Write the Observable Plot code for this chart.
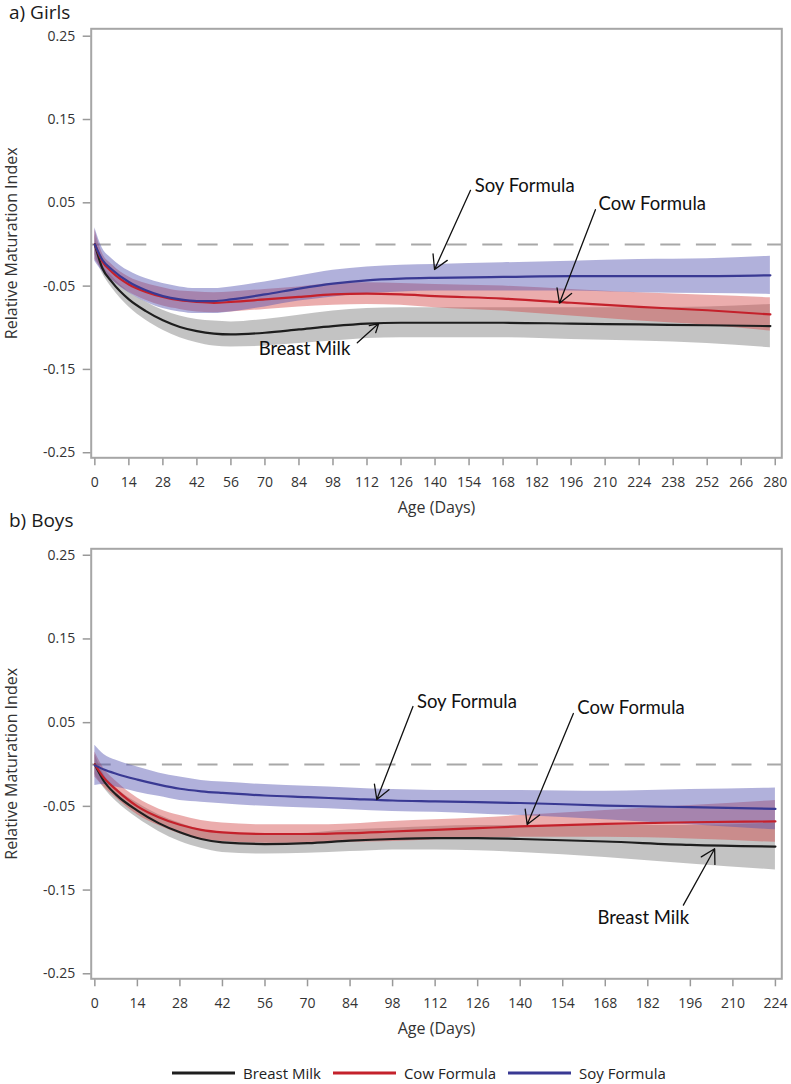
<!DOCTYPE html>
<html><head><meta charset="utf-8">
<script src="https://cdn.jsdelivr.net/npm/d3@7"></script>
<script src="https://cdn.jsdelivr.net/npm/@observablehq/plot@0.6"></script>
<style>
body{margin:0;background:#fff;font-family:"Open Sans",sans-serif;}
#wrap{position:relative;width:791px;height:1084px;overflow:hidden;}
.panel{position:absolute;left:0;}
.title{position:absolute;left:9px;font-size:19px;line-height:22px;color:#1a1a1a;white-space:nowrap;z-index:2;}
#legend{position:absolute;left:172px;top:1063px;display:flex;align-items:center;font-size:15px;color:#222;white-space:nowrap;}
#legend .item{display:flex;align-items:center;margin-right:12px;}
#legend svg{margin-right:8px;}
</style>
</head><body>
<div id="wrap">
  <div id="p1" class="panel" style="top:0px"></div>
  <div id="p2" class="panel" style="top:525px"></div>
  <div class="title" style="top:1px">a) Girls</div>
  <div class="title" style="top:509px">b) Boys</div>
  <div id="legend"></div>
</div>
<script>
// ---------- series / styling ----------
const seriesNames = ["Breast Milk", "Cow Formula", "Soy Formula"];
const lineColors = ["#1e1e1e", "#c4212b", "#393993"];
const bandColors = ["#7a7a7a", "#d24a4a", "#5252b0"];

// ---------- axes ----------
const yTicks = [0.25, 0.15, 0.05, -0.05, -0.15, -0.25];
const yTickLabels = ["0.25", "0.15", "0.05", "-0.05", "-0.15", "-0.25"];
const girlsXTicks = [0,14,28,42,56,70,84,98,112,126,140,154,168,182,196,210,224,238,252,266,280];
const boysXTicks = [0,14,28,42,56,70,84,98,112,126,140,154,168,182,196,210,224];

// ---------- Girls ----------
const girlsDays = [0,3,7,14,21,28,35,42,49,56,70,84,98,112,126,140,168,196,224,252,278];
const girlsBreastMean = [0,-0.028,-0.045,-0.066,-0.080,-0.091,-0.099,-0.104,-0.107,-0.108,-0.106,-0.102,-0.098,-0.095,-0.094,-0.094,-0.094,-0.095,-0.096,-0.097,-0.098];
const girlsBreastLow  = [-0.012,-0.034,-0.052,-0.075,-0.091,-0.103,-0.112,-0.118,-0.122,-0.123,-0.122,-0.119,-0.116,-0.113,-0.112,-0.112,-0.112,-0.114,-0.116,-0.119,-0.124];
const girlsBreastHigh = [0.012,-0.022,-0.038,-0.057,-0.069,-0.079,-0.086,-0.090,-0.092,-0.093,-0.090,-0.085,-0.080,-0.077,-0.076,-0.076,-0.076,-0.076,-0.076,-0.075,-0.072];
const girlsCowMean = [0,-0.020,-0.033,-0.048,-0.057,-0.063,-0.067,-0.069,-0.070,-0.069,-0.066,-0.063,-0.060,-0.059,-0.060,-0.062,-0.065,-0.070,-0.075,-0.079,-0.084];
const girlsCowLow  = [-0.018,-0.030,-0.042,-0.057,-0.067,-0.074,-0.078,-0.081,-0.082,-0.081,-0.078,-0.075,-0.073,-0.072,-0.073,-0.076,-0.080,-0.086,-0.092,-0.097,-0.104];
const girlsCowHigh = [0.018,-0.010,-0.024,-0.039,-0.047,-0.052,-0.056,-0.057,-0.058,-0.057,-0.054,-0.051,-0.047,-0.046,-0.047,-0.048,-0.050,-0.054,-0.058,-0.061,-0.064];
const girlsSoyMean = [0,-0.018,-0.030,-0.045,-0.055,-0.062,-0.066,-0.068,-0.068,-0.066,-0.060,-0.053,-0.047,-0.043,-0.041,-0.040,-0.039,-0.038,-0.038,-0.038,-0.037];
const girlsSoyLow  = [-0.020,-0.032,-0.043,-0.058,-0.069,-0.077,-0.081,-0.083,-0.083,-0.081,-0.075,-0.068,-0.063,-0.059,-0.057,-0.056,-0.056,-0.056,-0.058,-0.059,-0.060];
const girlsSoyHigh = [0.020,-0.004,-0.017,-0.032,-0.041,-0.047,-0.051,-0.053,-0.053,-0.051,-0.045,-0.038,-0.031,-0.027,-0.025,-0.024,-0.022,-0.020,-0.018,-0.017,-0.014];

// ---------- Boys ----------
const boysDays = [0,3,7,14,21,28,35,42,56,70,84,98,112,126,140,168,196,224];
const boysBreastMean = [0,-0.020,-0.036,-0.055,-0.070,-0.081,-0.089,-0.093,-0.095,-0.094,-0.091,-0.089,-0.088,-0.088,-0.089,-0.092,-0.096,-0.098];
const boysBreastLow  = [-0.012,-0.028,-0.044,-0.064,-0.080,-0.092,-0.100,-0.105,-0.107,-0.106,-0.104,-0.102,-0.102,-0.103,-0.105,-0.111,-0.119,-0.126];
const boysBreastHigh = [0.012,-0.012,-0.028,-0.046,-0.060,-0.070,-0.078,-0.081,-0.083,-0.082,-0.078,-0.076,-0.074,-0.073,-0.073,-0.073,-0.073,-0.070];
const boysCowMean = [0,-0.016,-0.030,-0.050,-0.063,-0.072,-0.078,-0.081,-0.083,-0.083,-0.082,-0.080,-0.078,-0.076,-0.074,-0.071,-0.069,-0.068];
const boysCowLow  = [-0.015,-0.027,-0.040,-0.060,-0.073,-0.083,-0.089,-0.092,-0.094,-0.094,-0.093,-0.092,-0.090,-0.088,-0.087,-0.087,-0.089,-0.093];
const boysCowHigh = [0.015,-0.005,-0.020,-0.040,-0.053,-0.061,-0.067,-0.070,-0.072,-0.072,-0.071,-0.068,-0.066,-0.064,-0.061,-0.055,-0.049,-0.043];
const boysSoyMean = [-0.001,-0.006,-0.011,-0.018,-0.024,-0.029,-0.032,-0.034,-0.037,-0.039,-0.041,-0.043,-0.044,-0.045,-0.046,-0.049,-0.051,-0.053];
const boysSoyLow  = [-0.025,-0.024,-0.027,-0.033,-0.038,-0.043,-0.045,-0.047,-0.050,-0.052,-0.054,-0.056,-0.057,-0.059,-0.061,-0.066,-0.072,-0.078];
const boysSoyHigh = [0.023,0.012,0.005,-0.003,-0.010,-0.015,-0.019,-0.021,-0.024,-0.026,-0.028,-0.030,-0.031,-0.031,-0.031,-0.032,-0.030,-0.028];

// ---------- annotations (data coordinates) ----------
const annTexts = ["Soy Formula", "Cow Formula", "Breast Milk"];
const girlsAnnTextX = [156.3, 207.3, 67.4];
const girlsAnnTextY = [0.070, 0.048, -0.125];
const girlsArrowX1 = [154.6, 206.0, 108.0];
const girlsArrowY1 = [0.065, 0.0417, -0.118];
const girlsArrowX2 = [139.8, 191.2, 116.8];
const girlsArrowY2 = [-0.030, -0.0705, -0.095];
const boysAnnTextX = [106.0, 158.8, 165.4];
const boysAnnTextY = [0.0744, 0.0677, -0.183];
const boysArrowX1 = [104.7, 157.5, 193.7];
const boysArrowY1 = [0.0693, 0.0609, -0.168];
const boysArrowX2 = [92.8, 142.3, 204.0];
const boysArrowY2 = [-0.0418, -0.0717, -0.1007];

// ---------- helpers ----------
function table(days, mean, lo, hi) {
  return days.map((d, i) => ({day: d, mean: mean[i], lo: lo[i], hi: hi[i]}));
}
function annTable(tx, ty) { return annTexts.map((t, i) => ({text: t, x: tx[i], y: ty[i]})); }
function arrowTable(x1, y1, x2, y2) { return x1.map((v, i) => ({x1: v, y1: y1[i], x2: x2[i], y2: y2[i]})); }

function panel({series, xTicks, xDomain, yDomain, height, marginTop, marginBottom, texts, arrows}) {
  const marks = [];
  marks.push(Plot.ruleY([0], {stroke: "#a8a8a8", strokeWidth: 2, strokeDasharray: "20,15.6"}));
  series.forEach((s, k) => marks.push(Plot.areaY(s, {x: "day", y1: "lo", y2: "hi", fill: bandColors[k], fillOpacity: 0.45, curve: "monotone-x"})));
  series.forEach((s, k) => marks.push(Plot.line(s, {x: "day", y: "mean", stroke: lineColors[k], strokeWidth: 2.2, curve: "monotone-x"})));
  marks.push(Plot.arrow(arrows, {x1: "x1", y1: "y1", x2: "x2", y2: "y2", stroke: "#111", strokeWidth: 1.3, headLength: 18, headAngle: 60}));
  marks.push(Plot.text(texts, {x: "x", y: "y", text: "text", textAnchor: "start", lineAnchor: "middle", fontFamily: "Lato", fontSize: 18.5, fill: "#111"}));
  marks.push(Plot.axisY({ticks: yTicks, tickSize: 8, tickPadding: 8, tickFormat: d => yTickLabels[yTicks.indexOf(d)], fontSize: 14, stroke: "#999", strokeWidth: 1.5, fill: "#333", label: null}));
  marks.push(Plot.axisX({ticks: xTicks, tickSize: 8, tickPadding: 11, fontSize: 14, stroke: "#999", strokeWidth: 1.5, fill: "#333", label: null}));
  marks.push(Plot.text(["Relative Maturation Index"], {frameAnchor: "left", rotate: -90, dx: -79, textAnchor: "middle", lineAnchor: "middle", fontSize: 16, fill: "#333"}));
  marks.push(Plot.text(["Age (Days)"], {frameAnchor: "bottom", dy: 50, textAnchor: "middle", lineAnchor: "middle", fontSize: 16, fill: "#333"}));
  marks.push(Plot.frame({stroke: "#a6a6a6", strokeWidth: 2}));
  return Plot.plot({
    width: 791, height, marginLeft: 90.7, marginRight: 9.7, marginTop, marginBottom,
    style: {fontFamily: "Open Sans", background: "transparent", overflow: "visible"},
    x: {domain: xDomain}, y: {domain: yDomain},
    marks
  });
}

const girls = [table(girlsDays, girlsBreastMean, girlsBreastLow, girlsBreastHigh),
               table(girlsDays, girlsCowMean, girlsCowLow, girlsCowHigh),
               table(girlsDays, girlsSoyMean, girlsSoyLow, girlsSoyHigh)];
const boys = [table(boysDays, boysBreastMean, boysBreastLow, boysBreastHigh),
              table(boysDays, boysCowMean, boysCowLow, boysCowHigh),
              table(boysDays, boysSoyMean, boysSoyLow, boysSoyHigh)];

document.getElementById("p1").appendChild(panel({
  series: girls, xTicks: girlsXTicks, xDomain: [-1.5, 282.7], yDomain: [-0.2561, 0.2589],
  height: 525, marginTop: 28.3, marginBottom: 67.7,
  texts: annTable(girlsAnnTextX, girlsAnnTextY),
  arrows: arrowTable(girlsArrowX1, girlsArrowY1, girlsArrowX2, girlsArrowY2)
}));
document.getElementById("p2").appendChild(panel({
  series: boys, xTicks: boysXTicks, xDomain: [-1.2, 226.1], yDomain: [-0.256, 0.2577],
  height: 520, marginTop: 23.3, marginBottom: 66.7,
  texts: annTable(boysAnnTextX, boysAnnTextY),
  arrows: arrowTable(boysArrowX1, boysArrowY1, boysArrowX2, boysArrowY2)
}));

// legend
const legend = document.getElementById("legend");
seriesNames.forEach((n, k) => {
  const it = document.createElement("div");
  it.className = "item";
  it.innerHTML = `<svg width="63" height="6"><line x1="0" x2="63" y1="3" y2="3" stroke="${lineColors[k]}" stroke-width="3"/></svg><span>${n}</span>`;
  legend.appendChild(it);
});
</script>
</body></html>
